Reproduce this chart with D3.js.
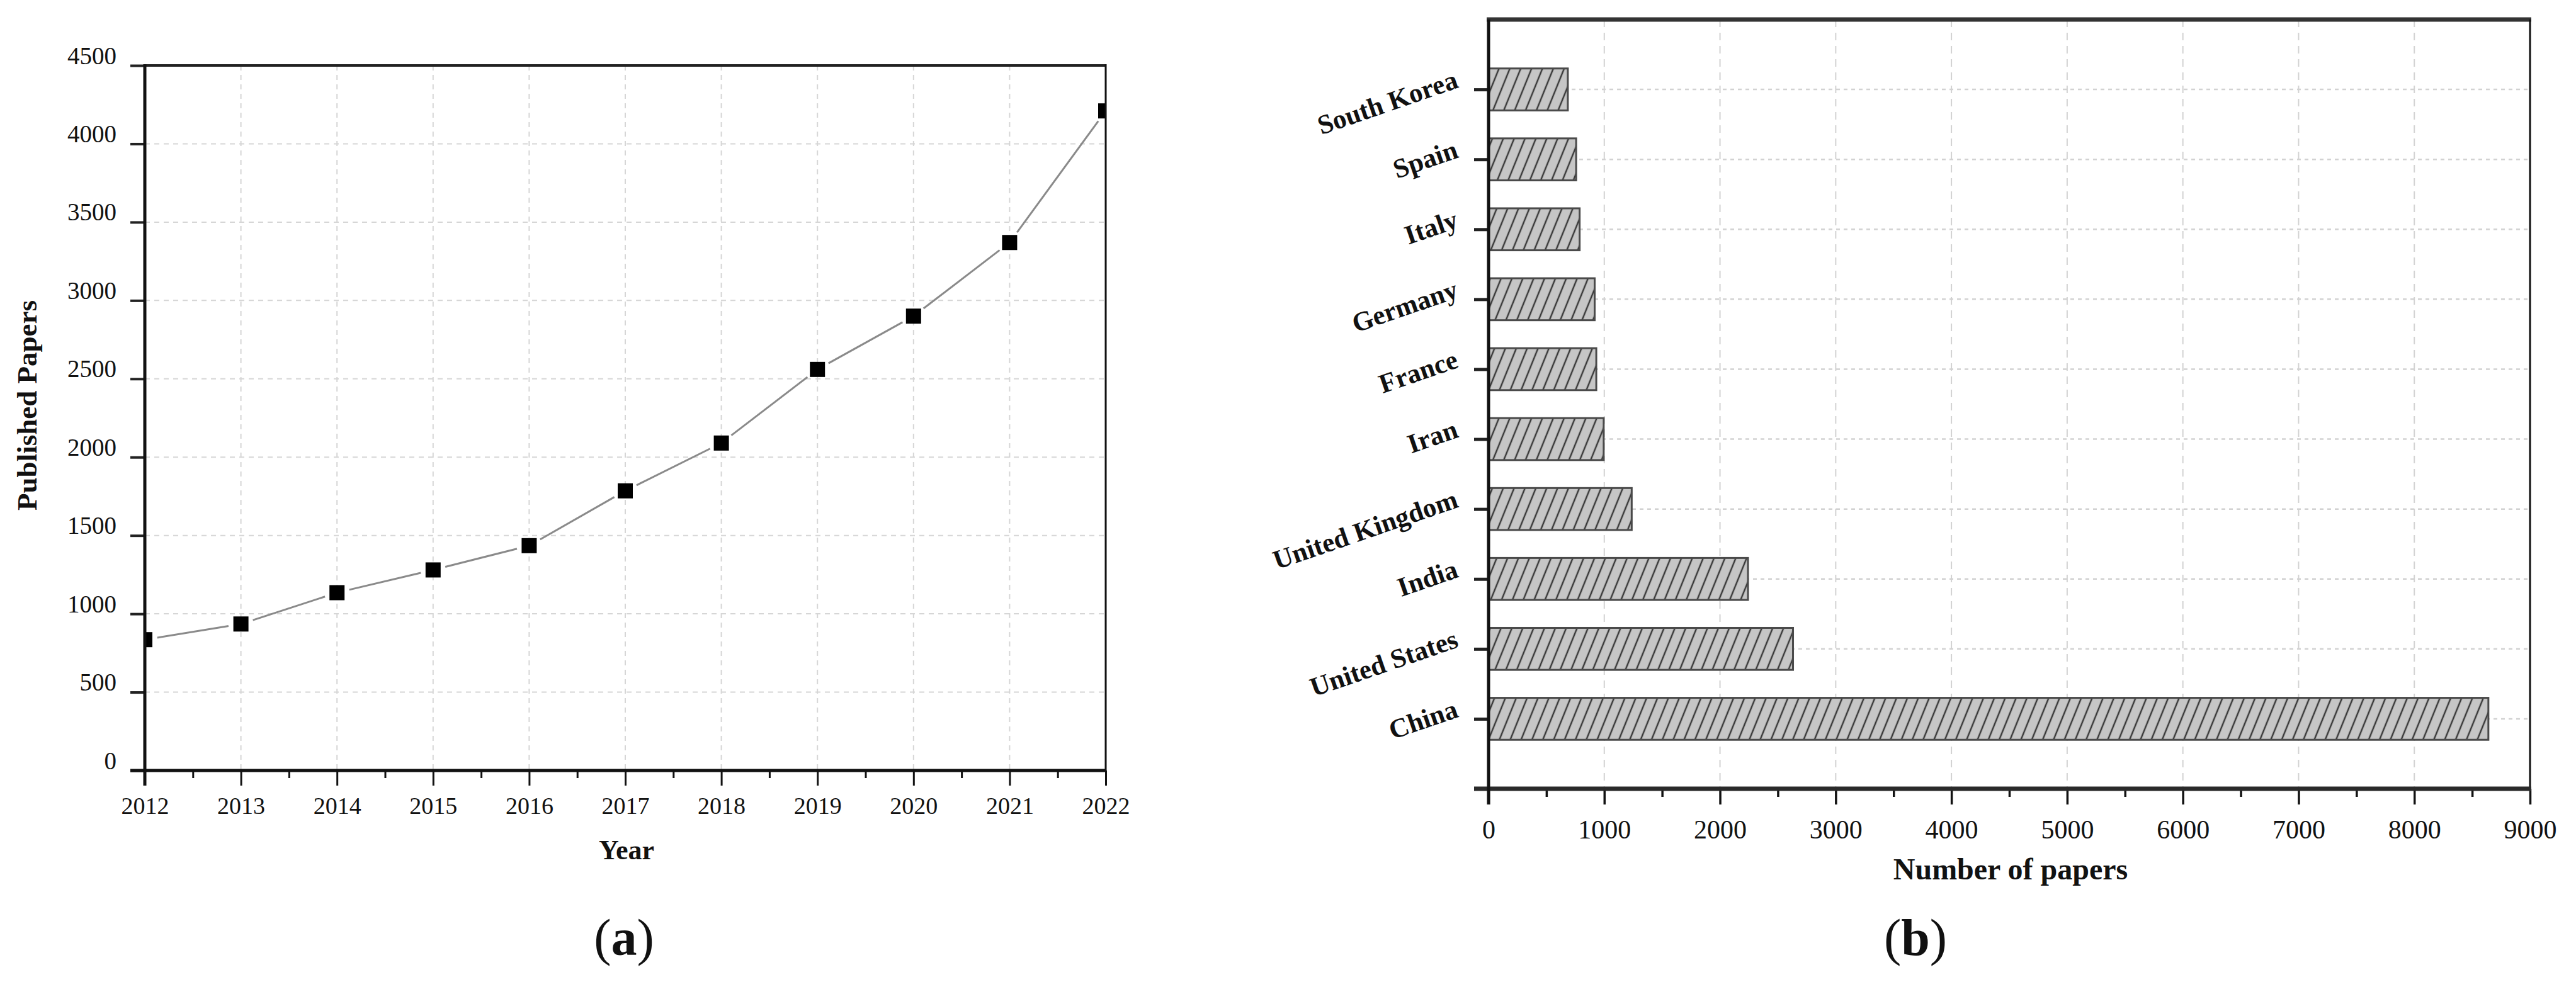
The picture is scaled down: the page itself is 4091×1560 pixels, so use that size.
<!DOCTYPE html>
<html>
<head>
<meta charset="utf-8">
<script src="https://cdn.jsdelivr.net/npm/d3@7"></script>
<style>
body { margin: 0; background: #fff; }
text { font-family: "Liberation Serif", "Times New Roman", serif; fill: #111; }
</style>
</head>
<body>
<div id="chart"></div>
<script>
// (a) papers per year
var years = [2012, 2013, 2014, 2015, 2016, 2017, 2018, 2019, 2020, 2021, 2022];
var papersPerYear = [835, 935, 1135, 1280, 1435, 1785, 2090, 2560, 2900, 3370, 4210];
var paperTicks = [0, 500, 1000, 1500, 2000, 2500, 3000, 3500, 4000, 4500];

// (b) papers per country
var countries = ["South Korea", "Spain", "Italy", "Germany", "France", "Iran",
                 "United Kingdom", "India", "United States", "China"];
var countryPapers = [685, 757, 787, 917, 931, 995, 1237, 2242, 2631, 8640];
var countTicks = [0, 1000, 2000, 3000, 4000, 5000, 6000, 7000, 8000, 9000];

var svg = d3.select("#chart")
  .append("svg")
    .attr("width", 4091)
    .attr("height", 1560);

svg.append("rect").attr("width", 4091).attr("height", 1560).attr("fill", "#fff");

var defs = svg.append("defs");

// ---------- chart (a) ----------
var a = { left: 230, right: 1756, top: 104, bottom: 1224 };

var xa = d3.scaleLinear().domain([2012, 2022]).range([a.left, a.right]);
var ya = d3.scaleLinear().domain([0, 4500]).range([a.bottom, a.top]);

defs.append("clipPath").attr("id", "clipA")
  .append("rect")
    .attr("x", a.left).attr("y", a.top)
    .attr("width", a.right - a.left).attr("height", a.bottom - a.top);

var gA = svg.append("g");

gA.append("g").selectAll("line")
    .data(years.slice(1, -1))
    .enter().append("line")
      .attr("x1", function(d) { return xa(d); })
      .attr("x2", function(d) { return xa(d); })
      .attr("y1", a.top).attr("y2", a.bottom)
      .attr("stroke", "#d6d6d6").attr("stroke-width", 2)
      .attr("stroke-dasharray", "8,7");

gA.append("g").selectAll("line")
    .data(paperTicks.slice(1, -1))
    .enter().append("line")
      .attr("y1", function(d) { return ya(d); })
      .attr("y2", function(d) { return ya(d); })
      .attr("x1", a.left).attr("x2", a.right)
      .attr("stroke", "#d6d6d6").attr("stroke-width", 2)
      .attr("stroke-dasharray", "8,7");

// line segments with small gaps at the markers
var segs = [];
for (var i = 0; i < years.length - 1; i++) {
    var x0 = xa(years[i]), y0 = ya(papersPerYear[i]);
    var x1 = xa(years[i + 1]), y1 = ya(papersPerYear[i + 1]);
    var len = Math.sqrt((x1 - x0) * (x1 - x0) + (y1 - y0) * (y1 - y0));
    var ux = (x1 - x0) / len, uy = (y1 - y0) / len, gap = 20;
    segs.push([x0 + ux * gap, y0 + uy * gap, x1 - ux * gap, y1 - uy * gap]);
}

var plotA = gA.append("g").attr("clip-path", "url(#clipA)");

plotA.selectAll(".seg")
    .data(segs)
    .enter().append("line")
      .attr("x1", function(d) { return d[0]; })
      .attr("y1", function(d) { return d[1]; })
      .attr("x2", function(d) { return d[2]; })
      .attr("y2", function(d) { return d[3]; })
      .attr("stroke", "#8a8a8a").attr("stroke-width", 3);

plotA.selectAll(".marker")
    .data(years)
    .enter().append("rect")
      .attr("x", function(d) { return xa(d) - 12; })
      .attr("y", function(d, i) { return ya(papersPerYear[i]) - 12; })
      .attr("width", 24).attr("height", 24)
      .attr("fill", "#000");

// axes (a)
var xAxisA = gA.append("g")
    .attr("transform", "translate(0," + a.bottom + ")")
    .call(d3.axisBottom(xa).tickValues(years).tickSize(24).tickFormat(d3.format("d")));
xAxisA.select(".domain").remove();
xAxisA.selectAll("line").attr("stroke", "#111").attr("stroke-width", 3);
xAxisA.selectAll("text")
    .attr("y", 69).attr("dy", null)
    .style("font-size", "38px").attr("fill", "#222");

var xMinorA = gA.append("g")
    .attr("transform", "translate(0," + a.bottom + ")")
    .call(d3.axisBottom(xa).tickValues(years.slice(0, -1).map(function(d) { return d + 0.5; }))
        .tickSize(12).tickFormat(""));
xMinorA.select(".domain").remove();
xMinorA.selectAll("line").attr("stroke", "#111").attr("stroke-width", 3);

var yAxisA = gA.append("g")
    .attr("transform", "translate(" + a.left + ",0)")
    .call(d3.axisLeft(ya).tickValues(paperTicks).tickSize(23).tickFormat(d3.format("d")));
yAxisA.select(".domain").remove();
yAxisA.selectAll("line").attr("stroke", "#222").attr("stroke-width", 4);
yAxisA.selectAll("text")
    .attr("x", -45).attr("dy", null).attr("y", -3)
    .style("font-size", "39px").attr("fill", "#222");

// frame (a)
gA.append("line").attr("x1", a.left).attr("x2", a.right).attr("y1", a.top).attr("y2", a.top)
    .attr("stroke", "#222").attr("stroke-width", 4);
gA.append("line").attr("x1", a.right).attr("x2", a.right).attr("y1", a.top - 2).attr("y2", a.bottom)
    .attr("stroke", "#111").attr("stroke-width", 3);
gA.append("line").attr("x1", a.left - 23).attr("x2", a.right + 1).attr("y1", a.bottom).attr("y2", a.bottom)
    .attr("stroke", "#111").attr("stroke-width", 5);
gA.append("line").attr("x1", a.left).attr("x2", a.left).attr("y1", a.top - 2).attr("y2", a.bottom + 24)
    .attr("stroke", "#111").attr("stroke-width", 5);

gA.append("text")
    .attr("transform", "translate(58,644) rotate(-90)")
    .attr("text-anchor", "middle")
    .style("font-size", "45px").style("font-weight", "bold")
    .text("Published Papers");

gA.append("text")
    .attr("x", 995).attr("y", 1365)
    .attr("text-anchor", "middle")
    .style("font-size", "44px").style("font-weight", "bold")
    .text("Year");

var capA = gA.append("text")
    .attr("x", 991).attr("y", 1517)
    .attr("text-anchor", "middle")
    .style("font-size", "82px");
capA.append("tspan").text("(");
capA.append("tspan").style("font-weight", "bold").text("a");
capA.append("tspan").text(")");

// ---------- chart (b) ----------
var b = { left: 2364, right: 4018, top: 31, bottom: 1253 };

var xb = d3.scaleLinear().domain([0, 9000]).range([b.left, b.right]);
var yb = d3.scalePoint().domain(countries).range([b.top, b.bottom]).padding(1);
var barH = yb.step() * 0.6;

var hatch = defs.append("pattern")
    .attr("id", "hatch")
    .attr("patternUnits", "userSpaceOnUse")
    .attr("width", 16).attr("height", 16)
    .attr("patternTransform", "rotate(22)");
hatch.append("rect").attr("width", 16).attr("height", 16).attr("fill", "#c6c6c6");
hatch.append("line").attr("x1", 8).attr("x2", 8).attr("y1", 0).attr("y2", 16)
    .attr("stroke", "#3a3a3a").attr("stroke-width", 2.5);

var gB = svg.append("g");

gB.append("g").selectAll("line")
    .data(countTicks.slice(1, -1))
    .enter().append("line")
      .attr("x1", function(d) { return xb(d); })
      .attr("x2", function(d) { return xb(d); })
      .attr("y1", b.top).attr("y2", b.bottom)
      .attr("stroke", "#d2d2d2").attr("stroke-width", 2)
      .attr("stroke-dasharray", "12,9");

gB.append("g").selectAll("line")
    .data(countries)
    .enter().append("line")
      .attr("y1", function(d) { return yb(d); })
      .attr("y2", function(d) { return yb(d); })
      .attr("x1", b.left).attr("x2", b.right)
      .attr("stroke", "#d2d2d2").attr("stroke-width", 2.5)
      .attr("stroke-dasharray", "6,6");

gB.append("g").selectAll("rect")
    .data(countries)
    .enter().append("rect")
      .attr("x", xb(0))
      .attr("y", function(d) { return yb(d) - barH / 2; })
      .attr("width", function(d, i) { return xb(countryPapers[i]) - xb(0); })
      .attr("height", barH)
      .attr("fill", "url(#hatch)")
      .attr("stroke", "#4a4a4a").attr("stroke-width", 3);

var xAxisB = gB.append("g")
    .attr("transform", "translate(0," + b.bottom + ")")
    .call(d3.axisBottom(xb).tickValues(countTicks).tickSize(25).tickFormat(d3.format("d")));
xAxisB.select(".domain").remove();
xAxisB.selectAll("line").attr("stroke", "#111").attr("stroke-width", 3.5);
xAxisB.selectAll("text")
    .attr("y", 79).attr("dy", null)
    .style("font-size", "42px").attr("fill", "#222");

var xMinorB = gB.append("g")
    .attr("transform", "translate(0," + b.bottom + ")")
    .call(d3.axisBottom(xb).tickValues(countTicks.slice(0, -1).map(function(d) { return d + 500; }))
        .tickSize(13).tickFormat(""));
xMinorB.select(".domain").remove();
xMinorB.selectAll("line").attr("stroke", "#111").attr("stroke-width", 3.5);

var yAxisB = gB.append("g")
    .attr("transform", "translate(" + b.left + ",0)")
    .call(d3.axisLeft(yb).tickSize(23));
yAxisB.select(".domain").remove();
yAxisB.selectAll("line").attr("stroke", "#222").attr("stroke-width", 5);
yAxisB.selectAll("text")
    .attr("x", null).attr("dy", null)
    .attr("transform", "translate(-46,-4) rotate(-19)")
    .attr("text-anchor", "end")
    .style("font-size", "43px").style("font-weight", "bold").attr("fill", "#111");

// frame (b)
gB.append("line").attr("x1", b.left - 3).attr("x2", b.right + 2).attr("y1", b.top).attr("y2", b.top)
    .attr("stroke", "#333").attr("stroke-width", 7);
gB.append("line").attr("x1", b.right).attr("x2", b.right).attr("y1", b.top).attr("y2", b.bottom)
    .attr("stroke", "#111").attr("stroke-width", 3);
gB.append("line").attr("x1", b.left - 23).attr("x2", b.right + 2).attr("y1", b.bottom).attr("y2", b.bottom)
    .attr("stroke", "#2a2a2a").attr("stroke-width", 7);
gB.append("line").attr("x1", b.left).attr("x2", b.left).attr("y1", b.top).attr("y2", b.bottom + 25)
    .attr("stroke", "#111").attr("stroke-width", 5);

gB.append("text")
    .attr("x", 3193).attr("y", 1397)
    .attr("text-anchor", "middle")
    .style("font-size", "48px").style("font-weight", "bold")
    .text("Number of papers");

var capB = gB.append("text")
    .attr("x", 3042).attr("y", 1517)
    .attr("text-anchor", "middle")
    .style("font-size", "82px");
capB.append("tspan").text("(");
capB.append("tspan").style("font-weight", "bold").text("b");
capB.append("tspan").text(")");
</script>
</body>
</html>
